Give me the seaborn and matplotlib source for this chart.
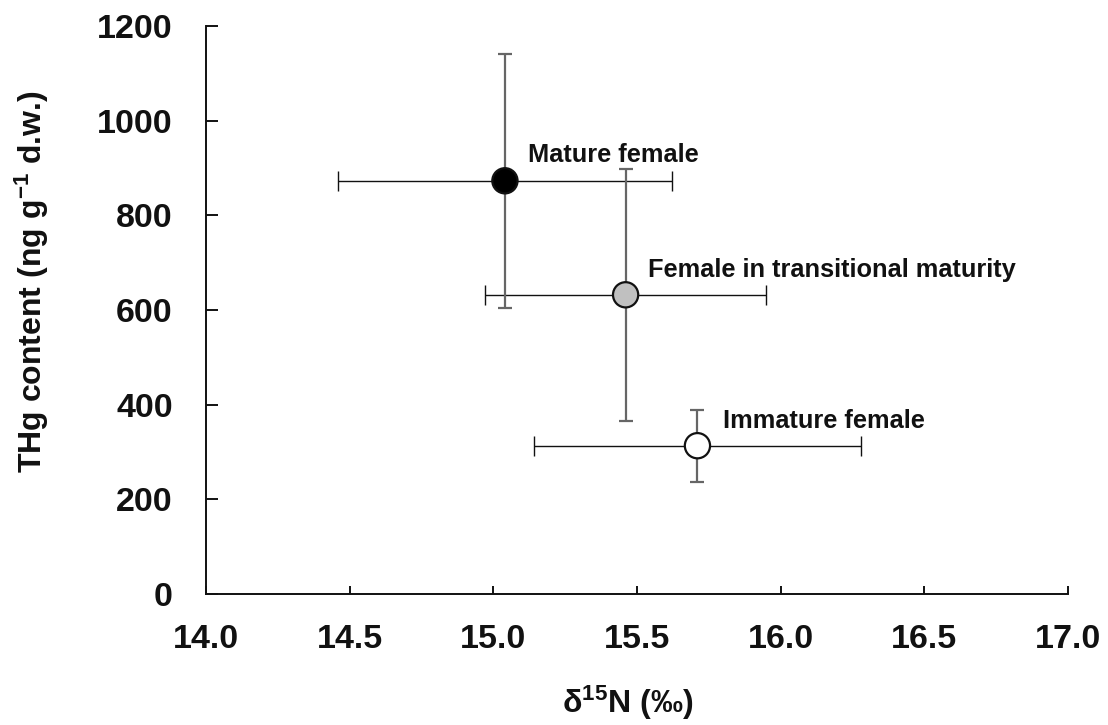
import matplotlib
matplotlib.use("Agg")
import matplotlib.pyplot as plt
import seaborn as sns
import pandas as pd

# Group means and standard deviations
groups = ["Mature female", "Female in transitional maturity", "Immature female"]
d15n = [15.04, 15.46, 15.71]
d15n_sd = [0.58, 0.49, 0.57]
thg = [873, 632, 313]
thg_sd = [268, 266, 76]
fills = ["#000000", "#c0c0c0", "#ffffff"]
x_ticks = [14.0, 14.5, 15.0, 15.5, 16.0, 16.5, 17.0]
y_ticks = [0, 200, 400, 600, 800, 1000, 1200]

sns.set_style("ticks")
plt.rcParams["font.family"] = ["Liberation Sans", "DejaVu Sans"]
plt.rcParams["font.weight"] = "bold"
plt.rcParams["mathtext.fontset"] = "custom"
plt.rcParams["mathtext.rm"] = "Liberation Sans:bold"
plt.rcParams["mathtext.it"] = "Liberation Sans:bold"
plt.rcParams["mathtext.bf"] = "Liberation Sans:bold"
plt.rcParams["mathtext.default"] = "rm"

df = pd.DataFrame({"group": groups, "d15n": d15n, "thg": thg})

fig = plt.figure(figsize=(11.08, 7.25), dpi=100)
ax = fig.add_axes([0.186, 0.181, 0.778, 0.783])

# horizontal (δ15N) error bars: thin black
ax.errorbar(d15n, thg, xerr=d15n_sd, fmt="none", ecolor="#111111",
            elinewidth=1.0, capsize=7, capthick=1.0, zorder=2)
# vertical (THg) error bars: thicker grey
ax.errorbar(d15n, thg, yerr=thg_sd, fmt="none", ecolor="#666666",
            elinewidth=1.6, capsize=5, capthick=1.6, zorder=2)

sns.scatterplot(data=df, x="d15n", y="thg", hue="group", palette=fills,
                s=330, edgecolor="#111111", linewidth=1.6, legend=False,
                ax=ax, zorder=3)

# group labels beside the markers
label_pos = [(15.121, 912), (15.538, 669), (15.798, 350)]
for name, (lx, ly) in zip(groups, label_pos):
    ax.text(lx, ly, name, fontsize=18.3, fontweight="bold",
            ha="left", va="baseline", color="#111111")

ax.set_xlim(14.0, 17.0)
ax.set_ylim(0, 1200)
ax.set_xticks(x_ticks)
ax.set_xticklabels([f"{t:.1f}" for t in x_ticks])
ax.set_yticks(y_ticks)
ax.set_yticklabels([str(t) for t in y_ticks])

ax.tick_params(axis="x", direction="in", length=6, width=1.4, pad=22,
               labelsize=24.5, colors="#111111")
ax.tick_params(axis="y", direction="in", length=8.5, width=1.4, pad=24,
               labelsize=24.5, colors="#111111")
for lab in ax.get_xticklabels() + ax.get_yticklabels():
    lab.set_fontweight("bold")

sns.despine(ax=ax, top=True, right=True)
for side in ("left", "bottom"):
    ax.spines[side].set_linewidth(1.4)
    ax.spines[side].set_color("#111111")

ax.set_xlabel("δ$^{15}$N (‰)", fontsize=23, fontweight="bold",
              color="#111111")
ax.set_ylabel("THg content (ng g$^{-1}$ d.w.)", fontsize=23,
              fontweight="bold", color="#111111")
ax.xaxis.set_label_coords(0.489, -0.158)
ax.yaxis.set_label_coords(-0.180, 0.55)

fig.savefig("out.png", dpi=100, facecolor="white")
